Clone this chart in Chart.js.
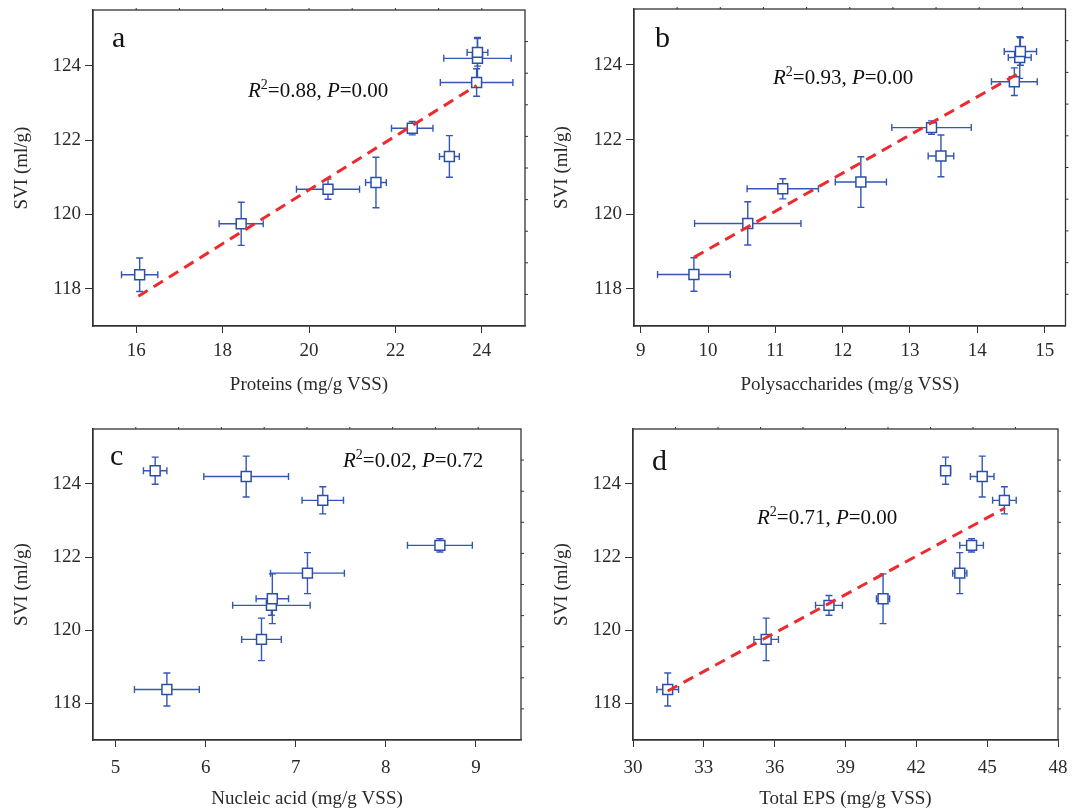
<!DOCTYPE html>
<html>
<head>
<meta charset="utf-8">
<title>SVI vs EPS</title>
<script src="https://cdn.jsdelivr.net/npm/chart.js@4.4.0/dist/chart.umd.min.js"></script>
<style>
  html, body { margin: 0; padding: 0; background: #fff; }
  #wrap { position: relative; width: 1074px; height: 810px; }
  .panel { position: absolute; width: 537px; height: 405px; }
</style>
</head>
<body>
<div id="wrap">
  <div class="panel" style="left:0;top:0"><canvas id="chartA" width="537" height="405"></canvas></div>
  <div class="panel" style="left:537px;top:0"><canvas id="chartB" width="537" height="405"></canvas></div>
  <div class="panel" style="left:0;top:405px"><canvas id="chartC" width="537" height="405"></canvas></div>
  <div class="panel" style="left:537px;top:405px"><canvas id="chartD" width="537" height="405"></canvas></div>
</div>
<script>
// SVI of the nine samples (same y values in every panel)
const svi    = [118.38, 119.75, 120.68, 120.86, 121.56, 122.32, 123.55, 124.20, 124.36];
const sviErr = [0.45, 0.58, 0.27, 0.68, 0.56, 0.18, 0.37, 0.56, 0.37];

// EPS components (mg/g VSS)
const proteins     = [16.08, 18.43, 20.44, 21.55, 23.25, 22.39, 23.88, 23.90, 23.90];
const proteinsErr  = [0.42, 0.51, 0.73, 0.24, 0.23, 0.48, 0.84, 0.78, 0.24];
const polysacch    = [9.79, 10.59, 11.11, 12.27, 13.46, 13.32, 14.55, 14.63, 14.64];
const polysacchErr = [0.54, 0.79, 0.53, 0.38, 0.19, 0.59, 0.34, 0.17, 0.24];
const nucleic      = [5.57, 6.62, 6.73, 6.74, 7.13, 8.60, 7.30, 6.45, 5.44];
const nucleicErr   = [0.36, 0.22, 0.43, 0.18, 0.41, 0.36, 0.23, 0.47, 0.13];
const totalEps     = [31.47, 35.64, 38.30, 40.59, 43.84, 44.34, 45.73, 44.79, 43.24];
const totalEpsErr  = [0.46, 0.52, 0.57, 0.28, 0.30, 0.50, 0.50, 0.50, 0.21];

// fitted lines (end points)
const fitAx = [16.05, 23.88], fitAy = [117.80, 123.47];
const fitBx = [9.79, 14.64],  fitBy = [118.84, 123.80];
const fitDx = [31.47, 45.76], fitDy = [118.34, 123.34];

// tick labels
const sviTicks  = [118, 120, 122, 124];
const ticksA = [16, 18, 20, 22, 24];
const ticksB = [9, 10, 11, 12, 13, 14, 15];
const ticksC = [5, 6, 7, 8, 9];
const ticksD = [30, 33, 36, 39, 42, 45, 48];

const FONT = "'Liberation Serif', 'Times New Roman', serif";
const INK = '#2a2a2a';

// error bars drawn under the markers
const errorBars = {
  id: 'errorBars',
  beforeDatasetsDraw(chart) {
    const { ctx, scales: { x, y } } = chart;
    chart.data.datasets.forEach(ds => {
      if (!ds.errX) return;
      ctx.save();
      ctx.strokeStyle = '#3457b5';
      ctx.lineWidth = 1.4;
      ds.data.forEach((p, i) => {
        const px = x.getPixelForValue(p.x), py = y.getPixelForValue(p.y);
        const xl = x.getPixelForValue(p.x - ds.errX[i]), xr = x.getPixelForValue(p.x + ds.errX[i]);
        const yt = y.getPixelForValue(p.y + ds.errY[i]), yb = y.getPixelForValue(p.y - ds.errY[i]);
        const c = 3.5;
        ctx.beginPath();
        ctx.moveTo(xl, py); ctx.lineTo(xr, py);
        ctx.moveTo(xl, py - c); ctx.lineTo(xl, py + c);
        ctx.moveTo(xr, py - c); ctx.lineTo(xr, py + c);
        ctx.moveTo(px, yt); ctx.lineTo(px, yb);
        ctx.moveTo(px - c, yt); ctx.lineTo(px + c, yt);
        ctx.moveTo(px - c, yb); ctx.lineTo(px + c, yb);
        ctx.stroke();
      });
      ctx.restore();
    });
  }
};

// box frame, minor ticks on top/right, panel letter and R2 note
const frame = {
  id: 'frame',
  afterDraw(chart, args, opts) {
    const { ctx, chartArea: a } = chart;
    ctx.save();
    ctx.strokeStyle = '#333';
    ctx.lineWidth = 1.3;
    ctx.strokeRect(a.left, a.top, a.right - a.left, a.bottom - a.top);
    ctx.lineWidth = 1;
    ctx.beginPath();
    for (let k = 1; k < 10; k++) {
      const tx = a.left + k * (a.right - a.left) / 10;
      ctx.moveTo(tx, a.top); ctx.lineTo(tx, a.top - 2);
      const ty = a.top + k * (a.bottom - a.top) / 10;
      ctx.moveTo(a.right, ty); ctx.lineTo(a.right + 3, ty);
    }
    ctx.stroke();

    ctx.fillStyle = '#111';
    ctx.textBaseline = 'alphabetic';
    ctx.font = '30px ' + FONT;
    ctx.fillText(opts.letter, opts.lx, opts.ly);

    // R^2 note
    let x = opts.nx;
    const base = opts.ny;
    const parts = [
      ['italic 21px ', 'R', 0],
      ['14px ', '2', -8],
      ['21px ', '=' + opts.r2 + ', ', 0],
      ['italic 21px ', 'P', 0],
      ['21px ', '=' + opts.p, 0]
    ];
    parts.forEach(([f, t, dy]) => {
      ctx.font = f + FONT;
      ctx.fillText(t, x, base + dy);
      x += ctx.measureText(t).width;
    });
    ctx.restore();
  }
};

function makePanel(id, cfg) {
  const points = cfg.xs.map((v, i) => ({ x: v, y: svi[i] }));
  const datasets = [{
    type: 'scatter',
    data: points,
    errX: cfg.xErr,
    errY: sviErr,
    pointStyle: 'rect',
    pointRadius: 7,
    borderWidth: 1.5,
    borderColor: '#2b4fa8',
    backgroundColor: '#fff',
    order: 1
  }];
  if (cfg.fitX) {
    datasets.push({
      type: 'line',
      data: cfg.fitX.map((v, i) => ({ x: v, y: cfg.fitY[i] })),
      borderColor: '#ee2a2e',
      borderWidth: 3,
      borderDash: [11, 7],
      pointRadius: 0,
      fill: false,
      order: 0
    });
  }
  const tickFont = { family: FONT, size: 19 };
  return new Chart(document.getElementById(id), {
    data: { datasets },
    options: {
      responsive: false,
      animation: false,
      layout: { padding: cfg.pad },
      plugins: {
        legend: { display: false },
        tooltip: { enabled: false },
        frame: cfg.note
      },
      scales: {
        x: {
          type: 'linear',
          min: cfg.xMin, max: cfg.xMax,
          afterBuildTicks: s => { s.ticks = cfg.xTicks.map(v => ({ value: v })); },
          afterFit: s => { s.height = cfg.xH; s.paddingLeft = 0; s.paddingRight = 0; },
          ticks: { font: tickFont, color: INK, padding: cfg.xTickPad, autoSkip: false, maxRotation: 0 },
          grid: { drawOnChartArea: false, tickLength: 7, color: '#333' },
          border: { color: '#333', width: 1.3 },
          title: { display: true, text: cfg.xTitle, font: tickFont, color: INK, padding: { top: 0, bottom: cfg.xTitlePad } }
        },
        y: {
          type: 'linear',
          min: 117, max: 125.5,
          afterBuildTicks: s => { s.ticks = sviTicks.map(v => ({ value: v })); },
          afterFit: s => { s.width = cfg.yW; s.paddingTop = 0; s.paddingBottom = 0; },
          ticks: { font: tickFont, color: INK, padding: 4 },
          grid: { drawOnChartArea: false, tickLength: 8, color: '#333' },
          border: { color: '#333', width: 1.3 },
          title: { display: true, text: 'SVI (ml/g)', font: tickFont, color: INK, padding: { top: cfg.yTitlePad, bottom: 0 } }
        }
      }
    },
    plugins: [errorBars, frame]
  });
}

makePanel('chartA', {
  xs: proteins, xErr: proteinsErr, fitX: fitAx, fitY: fitAy,
  xMin: 15, xMax: 25, xTicks: ticksA, xTitle: 'Proteins (mg/g VSS)',
  pad: { left: 0, top: 10, right: 12, bottom: 0 }, yW: 93, xH: 79,
  xTickPad: 7, xTitlePad: 9, yTitlePad: 10.5,
  note: { letter: 'a', lx: 112, ly: 47, nx: 248, ny: 97, r2: '0.88', p: '0.00' }
});

makePanel('chartB', {
  xs: polysacch, xErr: polysacchErr, fitX: fitBx, fitY: fitBy,
  xMin: 8.9, xMax: 15.31, xTicks: ticksB, xTitle: 'Polysaccharides (mg/g VSS)',
  pad: { left: 0, top: 9, right: 7, bottom: 0 }, yW: 97, xH: 79,
  xTickPad: 7, xTitlePad: 9, yTitlePad: 13.5,
  note: { letter: 'b', lx: 118, ly: 47, nx: 236, ny: 84, r2: '0.93', p: '0.00' }
});

makePanel('chartC', {
  xs: nucleic, xErr: nucleicErr,
  xMin: 4.75, xMax: 9.5, xTicks: ticksC, xTitle: 'Nucleic acid (mg/g VSS)',
  pad: { left: 0, top: 24, right: 16, bottom: 0 }, yW: 93, xH: 70,
  xTickPad: 10, xTitlePad: 0, yTitlePad: 10.5,
  note: { letter: 'c', lx: 110, ly: 60, nx: 343, ny: 62, r2: '0.02', p: '0.72' }
});

makePanel('chartD', {
  xs: totalEps, xErr: totalEpsErr, fitX: fitDx, fitY: fitDy,
  xMin: 30, xMax: 48, xTicks: ticksD, xTitle: 'Total EPS (mg/g VSS)',
  pad: { left: 0, top: 24, right: 16, bottom: 0 }, yW: 96, xH: 70,
  xTickPad: 10, xTitlePad: 0, yTitlePad: 13.5,
  note: { letter: 'd', lx: 115, ly: 65, nx: 220, ny: 119, r2: '0.71', p: '0.00' }
});
</script>
</body>
</html>
